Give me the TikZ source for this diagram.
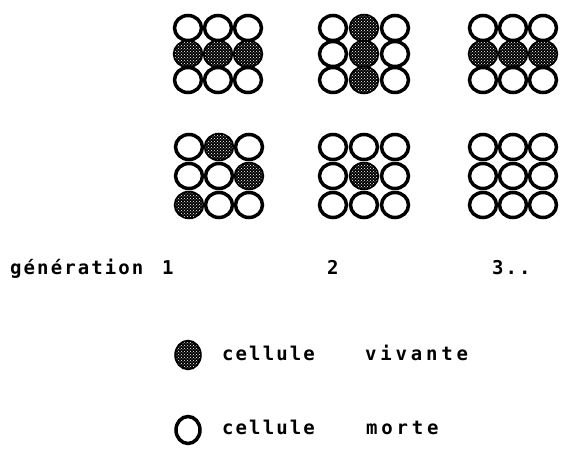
\documentclass[tikz,border=0pt]{standalone}
\usepackage{fontspec}
\setmonofont{DejaVu Sans Mono}[LetterSpace=11]
\newfontfamily\widemono{DejaVu Sans Mono}[LetterSpace=20]
\usetikzlibrary{patterns,shapes.geometric}
\newcommand\lifegrid[6]{%
  \foreach \s [count=\i from 0] in {#6}{%
    \pgfmathtruncatemacro\rr{div(\i,3)}%
    \pgfmathtruncatemacro\cc{mod(\i,3)}%
    \node[\s] (#1-\rr-\cc) at ({#2+#4*\cc},{#3+#5*\rr}) {};
  }}
\begin{document}
\begin{tikzpicture}[x=1pt,y=-1pt,
  cellbase/.style={ellipse, draw, line width=3.5pt, minimum width=27pt, minimum height=25pt, inner sep=0pt},
  dead/.style={cellbase, fill=white},
  alive/.style={cellbase, fill=black, postaction={pattern=crosshatch dots, pattern color=white}},
  legendcell/.style={minimum width=24pt, minimum height=27pt},
  lbl/.style={anchor=base west, font=\ttfamily\fontsize{19}{19}\selectfont\bfseries, inner sep=0pt},
  widelbl/.style={lbl, font=\widemono\fontsize{19}{19}\selectfont\bfseries}]
\useasboundingbox (0,0) rectangle (563,449);
\lifegrid{ta}{188}{28}{30}{26}{dead,dead,dead,alive,alive,alive,dead,dead,dead}
\lifegrid{tb}{333}{28}{31}{26}{dead,alive,dead,dead,alive,dead,dead,alive,dead}
\lifegrid{tc}{483}{28}{30}{26}{dead,dead,dead,alive,alive,alive,dead,dead,dead}
\lifegrid{ba}{189}{147}{30}{29}{dead,alive,dead,dead,dead,alive,alive,dead,dead}
\lifegrid{bb}{333}{147}{31}{29}{dead,dead,dead,dead,alive,dead,dead,dead,dead}
\lifegrid{bc}{483}{147}{30}{29}{dead,dead,dead,dead,dead,dead,dead,dead,dead}
\node[lbl] (gen) at (10,275) {génération};
\node[lbl] (g1) at (162,275) {1};
\node[lbl] (g2) at (327,275) {2};
\node[lbl] (g3) at (492,275) {3..};
\node[alive, legendcell] (lalive) at (188,355) {};
\node[lbl] (c1) at (222,361) {cellule};
\node[widelbl] (viv) at (365,361) {vivante};
\node[dead, legendcell] (ldead) at (188,430) {};
\node[lbl] (c2) at (222,435) {cellule};
\node[widelbl] (mor) at (366,435) {morte};
\end{tikzpicture}
\end{document}
